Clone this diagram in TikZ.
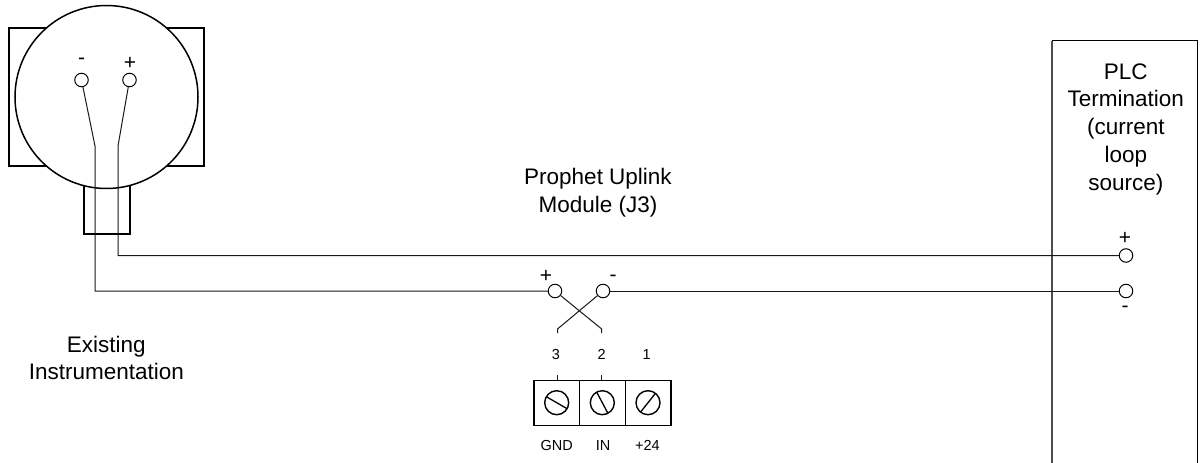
\documentclass[tikz,border=0pt]{standalone}
\usepackage{fontspec}
\usetikzlibrary{calc}
\setmainfont{Liberation Sans}
\begin{document}
\begin{tikzpicture}[x=1pt,y=-1pt,
 hvy/.style={line width=1.5pt,draw=black},
 wire/.style={line width=1pt,draw=black!90},
 term/.style={circle,draw=black,fill=white,line width=1pt,minimum size=13.5pt,inner sep=0pt},
 screw/.style={circle,draw=black,line width=1.4pt,minimum size=24pt,inner sep=0pt},
 slot/.style={line width=1.3pt,draw=black},
 cell/.style={draw=black,line width=1.3pt,minimum width=45.7pt,minimum height=45pt,inner sep=0pt},
 lab/.style={inner sep=0pt,align=center,font=\fontsize{22.5}{27.75}\selectfont},
 sm/.style={inner sep=0pt,anchor=base,font=\fontsize{14.5}{16}\selectfont},
 sign/.style={inner sep=0pt,font=\fontsize{21}{23}\selectfont}]
\useasboundingbox (0,0) rectangle (1200,463);
\fill[white] (0,0) rectangle (1200,463);
% housing
\draw[hvy] (9,28) rectangle (204,166);
\draw[hvy] (84,180) rectangle (130,234);
\node[circle,draw=black,fill=white,line width=1.5pt,minimum size=183pt,inner sep=0pt] (body) at (106.5,97) {};
% PLC box
\draw[line width=1.3pt,draw=black] (1197.5,470) -- (1197.5,40.5) -- (1052,40.5);
\draw[line width=1.3pt,draw=black!70] (1052,40.5) -- (1052,470);
% nodes
\node[term] (m1) at (81.5,80) {};
\node[term] (p1) at (129.5,80) {};
\node[term] (p2) at (555,291) {};
\node[term] (m2) at (603,291) {};
\node[term] (p3) at (1126,255.5) {};
\node[term] (m3) at (1126,291) {};
\coordinate (a) at (95,146);
\coordinate (b) at (118,146);
\coordinate (c) at (557.5,329);
\coordinate (d) at (601.7,329);
% terminal block
\node[cell] (t3) at (556.7,403) {};
\node[cell] (t2) at (602.4,403) {};
\node[cell] (t1) at (648.1,403) {};
% wires
\draw[wire] (m1) -- (a) -- (95,291) -- (p2);
\draw[wire] (p1) -- (b) -- (118,255.5) -- (p3);
\draw[wire] (m2) -- (m3);
\draw[wire] (p2) -- (d) -- (601.7,333);
\draw[wire] (m2) -- (c) -- (557.5,333);
\draw[wire] (557.5,375) -- (557.5,380);
\draw[wire] (601.7,375) -- (601.7,380);
\node[screw] (s3) at (556.7,402.7) {};
\node[screw] (s2) at (602.3,402.7) {};
\node[screw] (s1) at (648,402.7) {};
\draw[slot] ($(s3)+(-10.4,-6)$) -- ($(s3)+(10.4,6)$);
\draw[slot] ($(s2)+(-5.6,-10.6)$) -- ($(s2)+(5.6,10.6)$);
\draw[slot] ($(s1)+(-7.5,9.4)$) -- ($(s1)+(7.5,-9.4)$);
% text
\node[sign] (l1) at (81.5,61) {-};
\node[sign] (l2) at (130,63) {+};
\node[sign] (l3) at (546,276) {+};
\node[sign] (l4) at (613,278) {-};
\node[sign] (l5) at (1125,238) {+};
\node[sign] (l6) at (1125,309) {-};
\node[sm] (n3) at (556,359) {3};
\node[sm] (n2) at (601.7,359) {2};
\node[sm] (n1) at (646.7,359) {1};
\node[sm] (g3) at (556.7,450) {GND};
\node[sm] (g2) at (603,450) {IN};
\node[sm] (g1) at (647.5,450) {+24};
\node[lab] (t) at (598,193) {Prophet Uplink\\Module (J3)};
\node[lab] (e) at (106.3,358) {Existing\\Instrumentation};
\node[lab] (plc) at (1125.8,129) {PLC\\Termination\\(current\\loop\\source)};
\end{tikzpicture}
\end{document}
